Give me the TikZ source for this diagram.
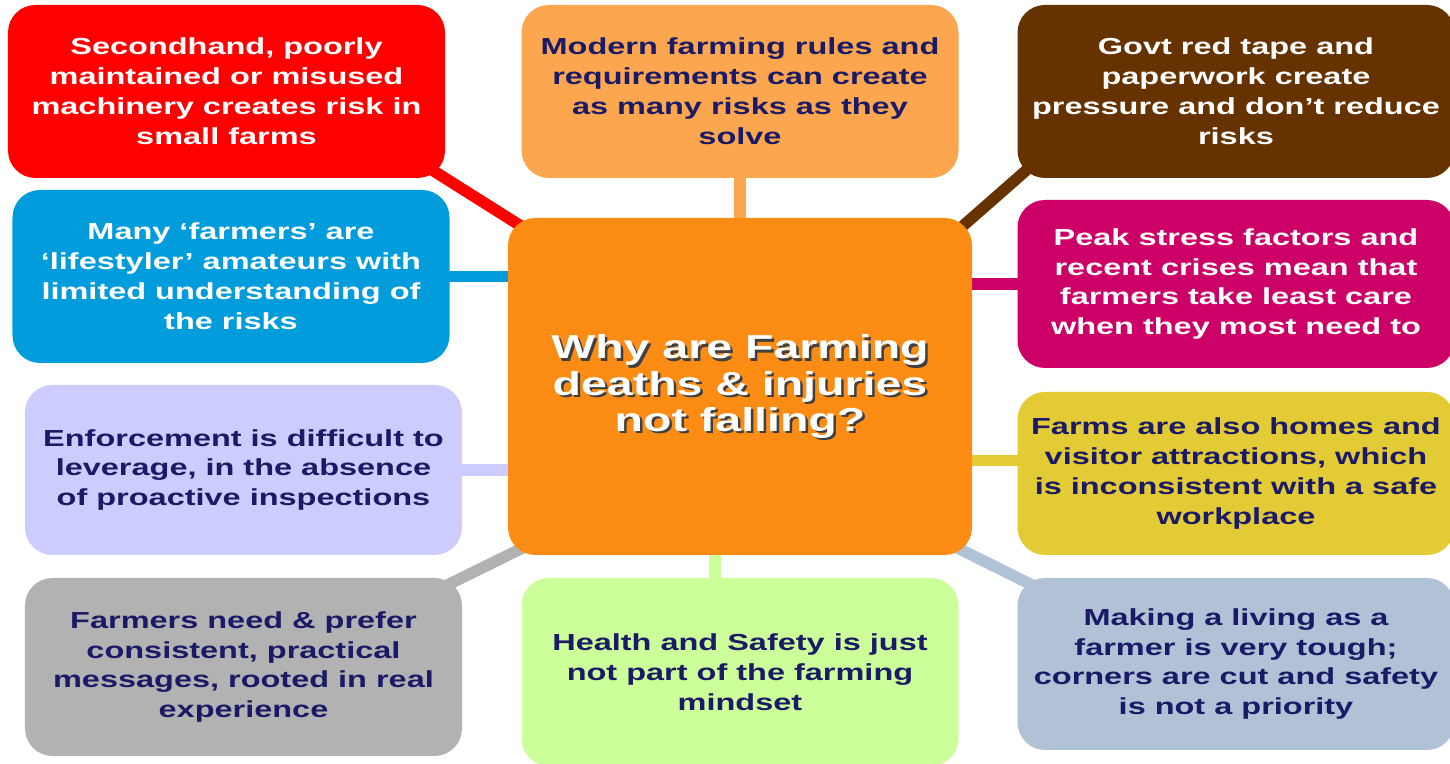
\documentclass[tikz,border=0pt]{standalone}
\usepackage{fontspec}
\newfontfamily\boxfont[FakeStretch=1.4]{Liberation Sans}
\usetikzlibrary{calc,backgrounds}
\definecolor{navytxt}{HTML}{1A1A66}
\definecolor{redbox}{HTML}{FF0000}
\definecolor{peachbox}{HTML}{FCA64F}
\definecolor{brownbox}{HTML}{663300}
\definecolor{bluebox}{HTML}{009CDC}
\definecolor{magbox}{HTML}{CC0066}
\definecolor{lavbox}{HTML}{CCCCFF}
\definecolor{yelbox}{HTML}{E2CB35}
\definecolor{greybox}{HTML}{B2B2B2}
\definecolor{greenbox}{HTML}{CCFF99}
\definecolor{slatebox}{HTML}{B1C1D6}
\definecolor{hubcol}{HTML}{FD8C14}
\begin{document}
\begin{tikzpicture}[
    reason/.style={rounded corners=0.55cm,minimum width=8.74cm,minimum height=3.46cm,
        align=center,font=\boxfont\bfseries\fontsize{13.2}{17}\selectfont,inner sep=0pt},
    link/.style={line width=6.5pt}]
    \useasboundingbox (0,0) rectangle (29,15.28);
    % centre box
    \node[fill=hubcol,rounded corners=0.55cm,minimum width=9.28cm,minimum height=6.74cm] (hub) at (14.8,7.55) {};
    \node[align=center,font=\boxfont\bfseries\fontsize{18.9}{20.5}\selectfont,text=black!75] (hubshadow) at ([shift={(0.05,-0.05)}]hub.center)
        {Why are Farming\\deaths \& injuries\\not falling?};
    \node[align=center,font=\boxfont\bfseries\fontsize{18.9}{20.5}\selectfont,text=white] (hubtitle) at (hub.center)
        {Why are Farming\\deaths \& injuries\\not falling?};
    % outer boxes
    \node[reason,fill=redbox,text=white] (machinery) at (4.53,13.45)
        {Secondhand, poorly\\maintained or misused\\machinery creates risk in\\small farms};
    \node[reason,fill=peachbox,text=navytxt] (rules) at (14.8,13.45)
        {Modern farming rules and\\requirements can create\\as many risks as they\\solve};
    \node[reason,fill=brownbox,text=white] (redtape) at (24.72,13.45)
        {Govt red tape and\\paperwork create\\pressure and don’t reduce\\risks};
    \node[reason,fill=bluebox,text=white] (amateurs) at (4.62,9.75)
        {Many ‘farmers’ are\\‘lifestyler’ amateurs with\\limited understanding of\\the risks};
    \node[reason,fill=magbox,text=white,minimum height=3.36cm] (stress) at (24.72,9.6)
        {Peak stress factors and\\recent crises mean that\\farmers take least care\\when they most need to};
    \node[reason,fill=lavbox,text=navytxt,minimum height=3.4cm] (enforce) at (4.87,5.88)
        {Enforcement is difficult to\\leverage, in the absence\\of proactive inspections};
    \node[reason,fill=yelbox,text=navytxt,minimum height=3.26cm] (homes) at (24.72,5.81)
        {Farms are also homes and\\visitor attractions, which\\is inconsistent with a safe\\workplace};
    \node[reason,fill=greybox,text=navytxt,minimum height=3.56cm] (messages) at (4.87,1.94)
        {Farmers need \& prefer\\consistent, practical\\messages, rooted in real\\experience};
    \node[reason,fill=greenbox,text=navytxt,minimum height=3.76cm] (mindset) at (14.8,1.84)
        {Health and Safety is just\\not part of the farming\\mindset};
    \node[reason,fill=slatebox,text=navytxt,minimum height=3.44cm] (living) at (24.72,2.0)
        {Making a living as a\\farmer is very tough;\\corners are cut and safety\\is not a priority};
    % connectors behind the boxes
    \begin{scope}[on background layer]
        \draw[link,redbox] ($(machinery.south east)!-0.5!(hub.north west)$) -- ($(hub.north west)!-0.5!(machinery.south east)$);
        \draw[link,peachbox] (rules.south) -- (hub.north);
        \draw[link,brownbox] ($(redtape.south west)!-0.5!(hub.north east)$) -- ($(hub.north east)!-0.5!(redtape.south west)$);
        \draw[link,bluebox] ([xshift=-0.3cm]amateurs.east) -- ([xshift=0.3cm]amateurs.east -| hub.west);
        \draw[link,magbox] ([xshift=0.3cm]stress.west) -- ([xshift=-0.3cm]stress.west -| hub.east);
        \draw[link,lavbox] ([xshift=-0.3cm]enforce.east) -- ([xshift=0.3cm]enforce.east -| hub.west);
        \draw[link,yelbox] ([shift={(0.3cm,0.26cm)}]homes.west) -- ([shift={(-0.3cm,0.26cm)}]homes.west -| hub.east);
        \draw[link,greybox] ($(messages.north east)!-0.5!(hub.south west)$) -- ($(hub.south west)!-0.5!(messages.north east)$);
        \draw[link,greenbox] ([xshift=-0.5cm]mindset.north) -- ([xshift=-0.5cm]hub.south);
        \draw[link,slatebox] ($(living.north west)!-0.5!(hub.south east)$) -- ($(hub.south east)!-0.5!(living.north west)$);
    \end{scope}
\end{tikzpicture}
\end{document}
